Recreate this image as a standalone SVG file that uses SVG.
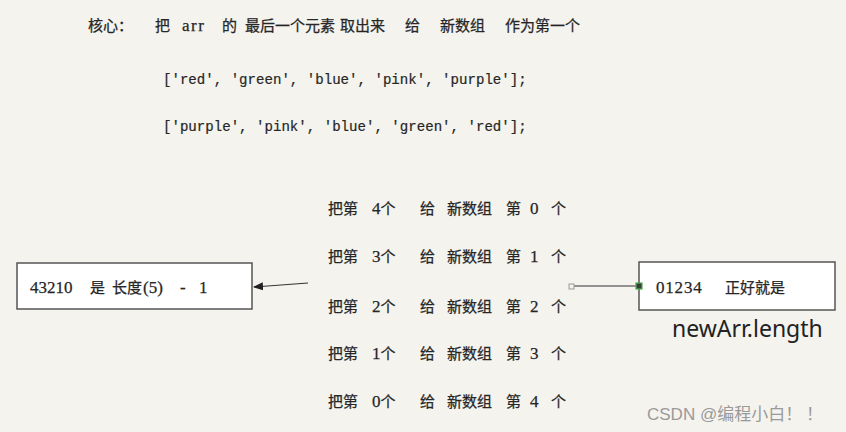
<svg xmlns="http://www.w3.org/2000/svg" width="846" height="432" viewBox="0 0 846 432">
<defs>
<style>
.t{font-family:"Liberation Serif","Noto Sans CJK SC",serif;font-size:15px;fill:#262626;stroke:#262626;stroke-width:0.25;}
.l{font-size:17px;}
.m{font-family:"Liberation Mono","Noto Sans CJK SC",monospace;font-size:14.1px;fill:#262626;stroke:#262626;stroke-width:0.2;}
.box{fill:#ffffff;stroke:#555;stroke-width:1.5;}
.c{stroke:#333;stroke-width:1.2;fill:none;}
</style>
<marker id="ah" markerWidth="10" markerHeight="8" refX="9" refY="4" orient="auto" markerUnits="userSpaceOnUse">
<path d="M0,0 L10,4 L0,8 Z" fill="#222"/>
</marker>
</defs>
<rect width="846" height="432" fill="#f4f3ee"/>
<g id="title" class="t">
<text x="88" y="31">核心：</text>
<text x="155" y="31">把</text>
<text x="182" y="31" class="l" letter-spacing="1.5">arr</text>
<text x="222" y="31">的</text>
<text x="245" y="31">最后一个元素</text>
<text x="340" y="31">取出来</text>
<text x="405" y="31">给</text>
<text x="440" y="31">新数组</text>
<text x="505" y="31">作为第一个</text>
</g>
<g id="arrays" class="m">
<text x="163" y="84">['red', 'green', 'blue', 'pink', 'purple'];</text>
<text x="163" y="131">['purple', 'pink', 'blue', 'green', 'red'];</text>
</g>
<g id="rows" class="t">
<g id="row0"><text x="328" y="214">把第</text><text x="372" y="214"><tspan class="l">4</tspan>个</text><text x="420" y="214">给</text><text x="447" y="214">新数组</text><text x="506" y="214">第</text><text x="530" y="214" class="l">0</text><text x="551" y="214">个</text></g>
<g id="row1"><text x="328" y="262">把第</text><text x="372" y="262"><tspan class="l">3</tspan>个</text><text x="420" y="262">给</text><text x="447" y="262">新数组</text><text x="506" y="262">第</text><text x="530" y="262" class="l">1</text><text x="551" y="262">个</text></g>
<g id="row2"><text x="328" y="312">把第</text><text x="372" y="312"><tspan class="l">2</tspan>个</text><text x="420" y="312">给</text><text x="447" y="312">新数组</text><text x="506" y="312">第</text><text x="530" y="312" class="l">2</text><text x="551" y="312">个</text></g>
<g id="row3"><text x="328" y="359">把第</text><text x="372" y="359"><tspan class="l">1</tspan>个</text><text x="420" y="359">给</text><text x="447" y="359">新数组</text><text x="506" y="359">第</text><text x="530" y="359" class="l">3</text><text x="551" y="359">个</text></g>
<g id="row4"><text x="328" y="407">把第</text><text x="372" y="407"><tspan class="l">0</tspan>个</text><text x="420" y="407">给</text><text x="447" y="407">新数组</text><text x="506" y="407">第</text><text x="530" y="407" class="l">4</text><text x="551" y="407">个</text></g>
</g>
<g id="leftBox">
<rect class="box" x="17" y="263" width="235" height="46"/>
<text class="t l" x="30" y="293">43210</text>
<text class="t" x="90" y="293">是</text>
<text class="t" x="112" y="293">长度</text>
<text class="t l" x="143" y="293">(5)</text>
<text class="t l" x="180" y="293">-</text>
<text class="t l" x="199" y="293">1</text>
</g>
<g id="rightBox">
<rect class="box" x="639" y="262" width="196" height="48"/>
<text class="t l" x="656" y="293" letter-spacing="0.8">01234</text>
<text class="t" x="725" y="293">正好就是</text>
<text x="672" y="337" font-family="'Noto Sans','Open Sans',sans-serif" font-size="23" fill="#222">newArr.length</text>
</g>
<g id="connectors">
<line class="c" x1="308" y1="283" x2="254" y2="287" marker-end="url(#ah)"/>
<line class="c" x1="574" y1="286" x2="639" y2="286"/>
<rect x="569" y="284" width="5" height="5" fill="#f4f3ee" stroke="#999" stroke-width="1"/>
<rect x="636" y="283" width="6" height="6" fill="#3a3a3a" stroke="#4caf50" stroke-width="1.2"/>
</g>
<text x="647" y="420" font-family="'Liberation Sans','Noto Sans CJK SC',sans-serif" font-size="17" fill="#9a9a9a">CSDN @编程小白<tspan font-family="'Noto Sans CJK SC',sans-serif">！ ！</tspan></text>
</svg>
